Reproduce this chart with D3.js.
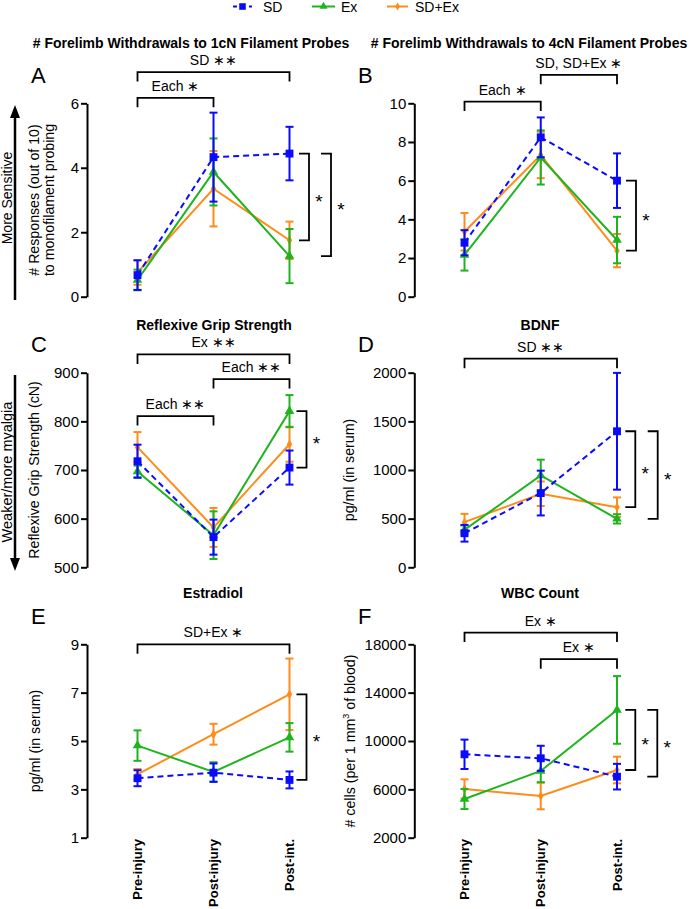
<!DOCTYPE html>
<html><head><meta charset="utf-8">
<script src="https://cdn.jsdelivr.net/npm/d3@7"></script>
<style>
body{margin:0;background:#fff}
text{font-family:"Liberation Sans",Arial,Helvetica,sans-serif;fill:#000}
</style>
</head><body>
<svg id="chart" width="691" height="909"></svg>
<script>
// ---------- DATA ----------
const categories = ["Pre-injury", "Post-injury", "Post-int."];
const groups = ["SD", "Ex", "SD+Ex"];

// Panel A: # responses to 1cN probes (mean, SEM)
const aSD = [0.67, 4.33, 4.44],  aSDErr = [0.46, 1.38, 0.83];
const aEx = [0.52, 3.87, 1.26],  aExErr = [0.32, 1.04, 0.84];
const aSE = [0.75, 3.35, 1.75],  aSEErr = [0.38, 1.17, 0.58];
const aTicks = [0, 2, 4, 6];

// Panel B: # responses to 4cN probes
const bSD = [2.79, 8.24, 6.00],  bSDErr = [0.65, 1.03, 1.41];
const bEx = [2.16, 7.20, 2.93],  bExErr = [0.81, 1.40, 1.20];
const bSE = [3.36, 7.33, 2.38],  bSEErr = [0.97, 1.20, 0.86];
const bTicks = [0, 2, 4, 6, 8, 10];

// Panel C: reflexive grip strength (cN)
const cSD = [718, 562, 705],  cSDErr = [34, 36, 35];
const cEx = [697, 566, 821],  cExErr = [12, 49, 33];
const cSE = [747, 582, 753],  cSEErr = [31, 40, 36];
const cTicks = [500, 600, 700, 800, 900];

// Panel D: BDNF (pg/ml)
const dSD = [350, 763, 1398],  dSDErr = [86, 230, 600];
const dEx = [385, 944, 498],   dExErr = [45, 162, 48];
const dSE = [464, 756, 618],   dSEErr = [85, 126, 100];
const dTicks = [0, 500, 1000, 1500, 2000];

// Panel E: Estradiol (pg/ml)
const eSD = [3.46, 3.69, 3.39],  eSDErr = [0.33, 0.38, 0.35];
const eEx = [4.81, 3.72, 5.15],  eExErr = [0.63, 0.40, 0.59];
const eSE = [3.62, 5.28, 6.93],  eSEErr = [0.22, 0.43, 1.48];
const eTicks = [1, 3, 5, 7, 9];

// Panel F: WBC count
const fSD = [8900, 8570, 7050],   fSDErr = [1215, 1035, 1060];
const fEx = [5200, 7520, 12570],  fExErr = [830, 930, 2800];
const fSE = [6030, 5450, 7600],   fSEErr = [800, 1100, 1100];
const fTicks = [2000, 6000, 10000, 14000, 18000];

// ---------- STYLE ----------
const colors = {"SD": "#0a0aff", "Ex": "#1fb41f", "SD+Ex": "#ff8c1a"};
const symbols = {"SD": d3.symbolSquare, "Ex": d3.symbolTriangle, "SD+Ex": d3.symbolDiamond};
const symSize = {"SD": 62, "Ex": 40, "SD+Ex": 26};
const drawOrder = ["SD+Ex", "Ex", "SD"];

const cols = [
  {axisX: 87, range: [137.5, 289.5], letterX: 31},
  {axisX: 414.3, range: [464.5, 617], letterX: 358}
];
const rows = [
  {top: 103.3, bottom: 296.7},
  {top: 372.7, bottom: 567.3},
  {top: 644.3, bottom: 837.7}
];

const panels = [
  {letter: "A", col: 0, row: 0, title: "# Forelimb Withdrawals to 1cN Filament Probes", titleX: 191, titleY: 48,
   domain: [0, 6], ticks: aTicks,
   series: {"SD": [aSD, aSDErr], "Ex": [aEx, aExErr], "SD+Ex": [aSE, aSEErr]},
   h: [{from: 0, to: 2, level: 6.97, label: "SD ∗∗"}, {from: 0, to: 1, level: 6.17, label: "Each ∗"}],
   v: [{g1: "SD", g2: "SD+Ex", off: 19.5}, {g1: "SD", g2: "Ex", off: 41.5}],
   ytitle: [{t: "# Responses (out of 10)", x: 34}, {t: "to monofilament probing", x: 49}]},
  {letter: "B", col: 1, row: 0, title: "# Forelimb Withdrawals to 4cN Filament Probes", titleX: 529, titleY: 48,
   domain: [0, 10], ticks: bTicks,
   series: {"SD": [bSD, bSDErr], "Ex": [bEx, bExErr], "SD+Ex": [bSE, bSEErr]},
   h: [{from: 1, to: 2, level: 11.47, label: "SD, SD+Ex ∗"}, {from: 0, to: 1, level: 10.09, label: "Each ∗"}],
   v: [{g1: "SD", g2: "SD+Ex", off: 19}],
   ytitle: []},
  {letter: "C", col: 0, row: 1, title: "Reflexive Grip Strength", titleX: 214, titleY: 330,
   domain: [500, 900], ticks: cTicks,
   series: {"SD": [cSD, cSDErr], "Ex": [cEx, cExErr], "SD+Ex": [cSE, cSEErr]},
   h: [{from: 0, to: 2, level: 937.6, label: "Ex ∗∗"}, {from: 1, to: 2, level: 886.9, label: "Each ∗∗"},
       {from: 0, to: 1, level: 810.9, label: "Each ∗∗"}],
   v: [{g1: "Ex", g2: "SD", off: 17}],
   ytitle: [{t: "Reflexive Grip Strength (cN)", x: 34}]},
  {letter: "D", col: 1, row: 1, title: "BDNF", titleX: 540, titleY: 330,
   domain: [0, 2000], ticks: dTicks,
   series: {"SD": [dSD, dSDErr], "Ex": [dEx, dExErr], "SD+Ex": [dSE, dSEErr]},
   h: [{from: 0, to: 2, level: 2144, label: "SD ∗∗"}],
   v: [{g1: "SD", g2: "SD+Ex", off: 18.3}, {g1: "SD", g2: "Ex", off: 40.7}],
   ytitle: [{t: "pg/ml (in serum)", x: 349}]},
  {letter: "E", col: 0, row: 2, title: "Estradiol", titleX: 213, titleY: 598,
   domain: [1, 9], ticks: eTicks,
   series: {"SD": [eSD, eSDErr], "Ex": [eEx, eExErr], "SD+Ex": [eSE, eSEErr]},
   h: [{from: 0, to: 2, level: 9.0, label: "SD+Ex ∗"}],
   v: [{g1: "SD+Ex", g2: "SD", off: 17}],
   ytitle: [{t: "pg/ml (in serum)", x: 35}], xlabels: true},
  {letter: "F", col: 1, row: 2, title: "WBC Count", titleX: 540, titleY: 598,
   domain: [2000, 18000], ticks: fTicks,
   series: {"SD": [fSD, fSDErr], "Ex": [fEx, fExErr], "SD+Ex": [fSE, fSEErr]},
   h: [{from: 0, to: 2, level: 18970, label: "Ex ∗"}, {from: 1, to: 2, level: 16768, label: "Ex ∗"}],
   v: [{g1: "Ex", g2: "SD+Ex", off: 18.3}, {g1: "Ex", g2: "SD", off: 40.3}],
   ytitle: [{t: "# cells (per 1 mm", sup: "3", rest: " of blood)", x: 350}], xlabels: true}
];

const svg = d3.select("#chart");

// ---------- LEGEND ----------
const legendItems = [
  {g: "SD", x1: 233, x2: 252, mx: 242.5, tx: 263},
  {g: "Ex", x1: 312, x2: 335, mx: 323.5, tx: 341},
  {g: "SD+Ex", x1: 387, x2: 408, mx: 397.5, tx: 415}
];
const lg = svg.append("g");
legendItems.forEach(it => {
  lg.append("line").attr("x1", it.x1).attr("x2", it.x2).attr("y1", 6.5).attr("y2", 6.5)
    .attr("stroke", colors[it.g]).attr("stroke-width", 2)
    .attr("stroke-dasharray", it.g === "SD" ? "4,4" : null);
  lg.append("path").attr("d", d3.symbol(symbols[it.g], symSize[it.g] * 0.7)())
    .attr("transform", `translate(${it.mx},6.5)`).attr("fill", colors[it.g]);
  lg.append("text").attr("x", it.tx).attr("y", 12).attr("font-size", 14).text(it.g);
});

// ---------- PANELS ----------
panels.forEach(p => {
  const col = cols[p.col], row = rows[p.row];
  const x = d3.scalePoint().domain(categories).range(col.range);
  const y = d3.scaleLinear().domain(p.domain).range([row.bottom, row.top]);
  const g = svg.append("g");

  // title
  g.append("text").attr("x", p.titleX).attr("y", p.titleY).attr("text-anchor", "middle")
    .attr("font-size", 14).attr("font-weight", "bold").text(p.title);
  // letter
  g.append("text").attr("x", col.letterX).attr("y", row.top - 20.5).attr("font-size", 22).text(p.letter);

  // y axis
  const ax = g.append("g").attr("transform", `translate(${col.axisX},0)`)
    .call(d3.axisLeft(y).tickValues(p.ticks).tickSize(6).tickSizeOuter(0).tickPadding(2).tickFormat(d3.format("d")));
  ax.select(".domain").attr("stroke", "#000").attr("stroke-width", 2);
  ax.selectAll(".tick line").attr("stroke", "#000").attr("stroke-width", 2);
  ax.selectAll(".tick text").attr("font-size", 15).attr("fill", "#000")
    .style("font-family", '"Liberation Sans",Arial,sans-serif');

  // y titles
  const yc = (row.top + row.bottom) / 2;
  p.ytitle.forEach(t => {
    const tt = g.append("text").attr("transform", `translate(${t.x},${yc}) rotate(-90)`)
      .attr("text-anchor", "middle").attr("dy", "0.35em").attr("font-size", 14.2);
    tt.append("tspan").text(t.t);
    if (t.sup) {
      tt.append("tspan").attr("font-size", 9).attr("dy", "-0.7em").text(t.sup);
      tt.append("tspan").attr("dy", "0.45em").text(t.rest);
    }
  });

  // series
  drawOrder.forEach(gr => {
    const [vals, errs] = p.series[gr];
    const c = colors[gr];
    const pts = categories.map((cat, i) => ({cat, v: vals[i], e: errs[i]}));
    const line = d3.line().x(d => x(d.cat)).y(d => y(d.v));
    g.append("path").datum(pts).attr("d", line).attr("fill", "none")
      .attr("stroke", c).attr("stroke-width", 2)
      .attr("stroke-dasharray", gr === "SD" ? "6,4" : null);
    const eb = g.append("g").attr("stroke", c).attr("stroke-width", 2);
    pts.forEach(d => {
      const cx = x(d.cat), y1 = y(d.v + d.e), y2 = y(d.v - d.e);
      eb.append("line").attr("x1", cx).attr("x2", cx).attr("y1", y1).attr("y2", y2);
      eb.append("line").attr("x1", cx - 4).attr("x2", cx + 4).attr("y1", y1).attr("y2", y1);
      eb.append("line").attr("x1", cx - 4).attr("x2", cx + 4).attr("y1", y2).attr("y2", y2);
    });
    g.selectAll(null).data(pts).enter().append("path")
      .attr("d", d3.symbol(symbols[gr], symSize[gr])())
      .attr("transform", d => `translate(${x(d.cat)},${y(d.v)})`)
      .attr("fill", c);
  });

  // horizontal brackets
  p.h.forEach(b => {
    const x1 = x(categories[b.from]), x2 = x(categories[b.to]), yy = y(b.level);
    g.append("path").attr("d", `M${x1},${yy + 9.5}V${yy}H${x2}V${yy + 9.5}`)
      .attr("fill", "none").attr("stroke", "#000").attr("stroke-width", 1.8);
    g.append("text").attr("x", (x1 + x2) / 2).attr("y", yy - 7).attr("text-anchor", "middle")
      .attr("font-size", 14).text(b.label);
  });

  // vertical brackets
  p.v.forEach(b => {
    const cat = categories[2];
    const gi1 = p.series[b.g1][0][2], gi2 = p.series[b.g2][0][2];
    const bx = x(cat) + b.off, y1 = y(gi1), y2 = y(gi2);
    g.append("path").attr("d", `M${bx - 10},${y1}H${bx}V${y2}H${bx - 10}`)
      .attr("fill", "none").attr("stroke", "#000").attr("stroke-width", 1.8);
    g.append("text").attr("x", bx + 10).attr("y", (y1 + y2) / 2 + 11).attr("text-anchor", "middle")
      .attr("font-size", 19).text("*");
  });

  // x labels
  if (p.xlabels) {
    categories.forEach(cat => {
      g.append("text").attr("transform", `translate(${x(cat)},839) rotate(-90)`)
        .attr("text-anchor", "end").attr("dy", "0.35em")
        .attr("font-size", 13).attr("font-weight", "bold").text(cat);
    });
  }
});

// ---------- SIDE ARROWS ----------
function arrow(xp, yFrom, yTo) {
  const dir = yTo < yFrom ? -1 : 1;
  svg.append("line").attr("x1", xp).attr("x2", xp).attr("y1", yFrom).attr("y2", yTo - dir * 10)
    .attr("stroke", "#000").attr("stroke-width", 2.5);
  svg.append("path").attr("d", `M${xp - 5},${yTo - dir * 13}L${xp + 5},${yTo - dir * 13}L${xp},${yTo}Z`)
    .attr("fill", "#000");
}
arrow(15, 300, 105);
svg.append("text").attr("transform", "translate(7,198) rotate(-90)").attr("text-anchor", "middle")
  .attr("dy", "0.35em").attr("font-size", 14).text("More Sensitive");
arrow(15, 375, 571);
svg.append("text").attr("transform", "translate(7,472) rotate(-90)").attr("text-anchor", "middle")
  .attr("dy", "0.35em").attr("font-size", 14.5).text("Weaker/more myalgia");
</script>
</body></html>
